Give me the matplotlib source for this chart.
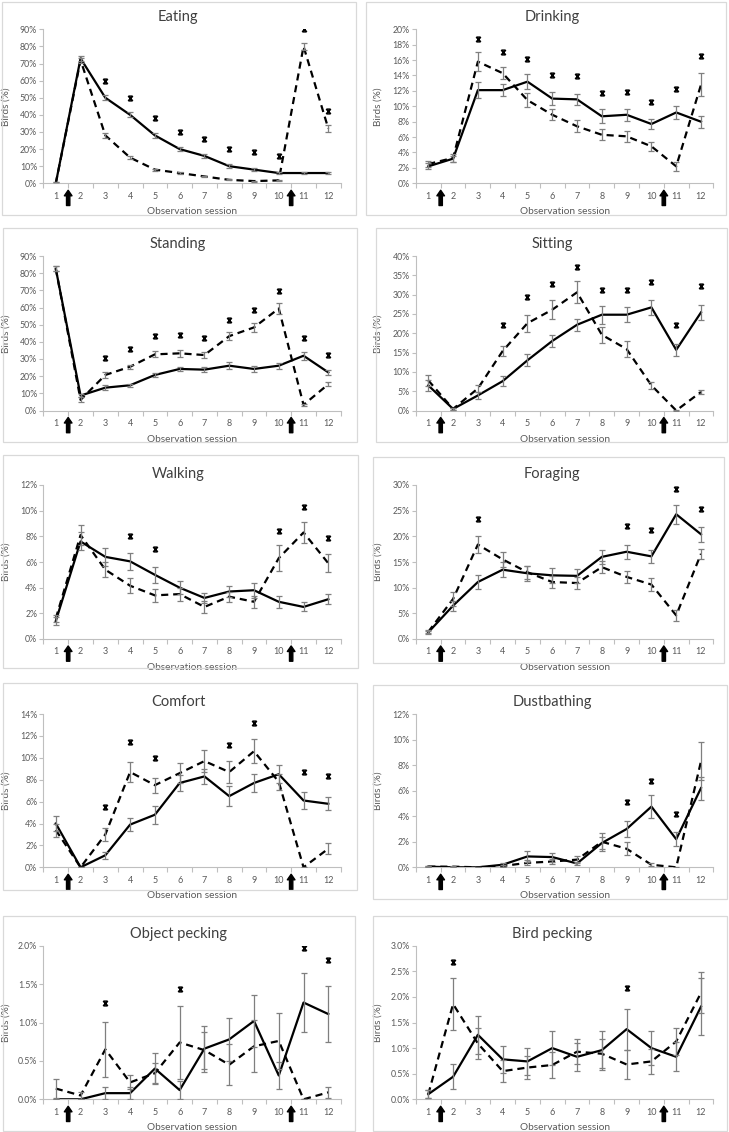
import numpy as np
import matplotlib
matplotlib.use('Agg')
import matplotlib.pyplot as plt
from matplotlib.path import Path
from matplotlib.patches import Rectangle
from matplotlib.ticker import FuncFormatter, MultipleLocator

plt.rcParams['font.family'] = ['Lato', 'DejaVu Sans']

nan = np.nan
sessions = list(range(1, 13))
session_labels = [str(s) for s in sessions]
arrow_positions = [1.5, 10.5]

# ---- data (percent of birds) ----
eating_solid = [0, 73, 50, 40, 28, 20, 16, 10, 8, 6, 6, 6]
eating_solid_err = [0.5, 1.5, 1.5, 1.5, 1.5, 1.2, 1.2, 1.0, 0.8, 0.8, 0.6, 0.6]
eating_dashed = [0, 72, 28, 15, 8, 6, 4, 2, 1.3, 1.7, 80, 32]
eating_dashed_err = [0.5, 1.5, 1.5, 0.8, 0.6, 0.6, 0.4, 0.3, 0.3, 0.3, 2.2, 1.8]
eating_star = [nan, nan, 60, 50, 38, 30, 26, 20, 18, 16, 90, 42]

drinking_solid = [2.2, 3.2, 12.1, 12.1, 13.2, 11.0, 10.9, 8.7, 8.9, 7.7, 9.2, 8.0]
drinking_solid_err = [0.4, 0.4, 1.0, 0.8, 1.0, 0.8, 0.7, 0.9, 0.8, 0.7, 0.9, 0.8]
drinking_dashed = [2.5, 3.3, 15.8, 14.3, 10.8, 8.9, 7.4, 6.3, 6.1, 4.8, 2.2, 12.8]
drinking_dashed_err = [0.4, 0.5, 1.2, 0.8, 0.9, 0.7, 0.8, 0.7, 0.7, 0.6, 0.6, 1.5]
drinking_star = [nan, nan, 18.8, 17.1, 16.1, 14.0, 13.9, 11.7, 11.9, 10.6, 12.3, 16.5]

standing_solid = [82.6, 8.7, 13.3, 14.7, 20.7, 24.2, 23.8, 26.1, 24.2, 26.1, 31.9, 22.2]
standing_solid_err = [1.5, 1.0, 1.5, 1.0, 1.2, 1.2, 1.5, 2.0, 1.7, 1.8, 2.2, 1.3]
standing_dashed = [82.6, 6.2, 20.7, 25.5, 32.7, 33.3, 32.3, 43.3, 48.4, 59.4, 3.3, 15.3]
standing_dashed_err = [1.5, 1.5, 1.5, 1.2, 1.8, 2.0, 2.0, 2.5, 2.5, 3.0, 0.7, 1.3]
standing_star = [nan, nan, 30.8, 35.6, 43.3, 43.9, 42.4, 53.0, 58.4, 69.4, 42.0, 32.3]

sitting_solid = [6.5, 0.4, 3.9, 7.6, 13.0, 18.0, 22.2, 24.8, 24.8, 26.7, 15.7, 25.4]
sitting_solid_err = [1.5, 0.3, 0.8, 1.3, 1.5, 1.5, 1.6, 2.3, 2.0, 2.0, 1.6, 2.0]
sitting_dashed = [7.8, 0.4, 5.7, 15.4, 22.6, 26.1, 30.6, 19.6, 15.9, 6.5, 0.0, 4.8]
sitting_dashed_err = [1.5, 0.3, 1.0, 1.4, 2.2, 2.5, 2.8, 2.0, 2.0, 1.0, 0.2, 0.6]
sitting_star = [nan, nan, nan, 22.2, 29.4, 32.8, 37.2, 31.3, 31.3, 33.2, 22.2, 32.2]

walking_solid = [1.4, 7.6, 6.4, 6.05, 5.0, 4.0, 3.2, 3.7, 3.8, 2.9, 2.5, 3.1]
walking_solid_err = [0.3, 0.7, 0.7, 0.65, 0.6, 0.5, 0.4, 0.4, 0.6, 0.45, 0.35, 0.4]
walking_dashed = [1.6, 8.1, 5.4, 4.15, 3.4, 3.5, 2.5, 3.3, 2.9, 6.3, 8.3, 5.9]
walking_dashed_err = [0.3, 0.8, 0.6, 0.6, 0.5, 0.5, 0.45, 0.4, 0.45, 1.0, 0.8, 0.7]
walking_star = [nan, nan, nan, 8.05, 7.04, nan, nan, nan, nan, 8.44, 10.3, 7.87]

foraging_solid = [1.3, 6.5, 11.1, 13.5, 12.8, 12.4, 12.3, 16.0, 17.0, 16.1, 24.3, 20.4]
foraging_solid_err = [0.3, 1.0, 1.3, 1.5, 1.5, 1.4, 1.4, 1.4, 1.4, 1.3, 1.9, 1.5]
foraging_dashed = [1.4, 7.8, 18.4, 15.5, 13.0, 11.1, 10.9, 14.0, 12.1, 10.6, 4.6, 16.6]
foraging_dashed_err = [0.3, 1.4, 1.6, 1.4, 1.3, 1.2, 1.1, 1.2, 1.2, 1.2, 1.0, 1.0]
foraging_star = [nan, nan, 23.3, nan, nan, nan, nan, nan, 22.0, 21.2, 29.3, 25.4]

comfort_solid = [4.0, 0.0, 1.1, 3.9, 4.8, 7.7, 8.3, 6.5, 7.7, 8.5, 6.1, 5.8]
comfort_solid_err = [0.7, 0.05, 0.3, 0.6, 0.8, 0.7, 0.7, 0.9, 0.8, 0.8, 0.8, 0.6]
comfort_dashed = [3.4, 0.0, 3.0, 8.7, 7.5, 8.6, 9.7, 8.7, 10.6, 7.8, 0.0, 1.7]
comfort_dashed_err = [0.6, 0.05, 0.6, 0.9, 0.7, 0.9, 1.0, 1.0, 1.1, 0.7, 0.05, 0.5]
comfort_star = [nan, nan, 5.5, 11.4, 9.95, nan, nan, 11.2, 13.15, nan, 8.7, 8.3]

dust_solid = [0.05, 0.0, 0.0, 0.2, 0.85, 0.8, 0.3, 1.9, 3.0, 4.75, 2.2, 6.2]
dust_solid_err = [0.05, 0.03, 0.02, 0.15, 0.4, 0.35, 0.15, 0.5, 0.6, 0.9, 0.55, 0.9]
dust_dashed = [0.05, 0.05, 0.0, 0.1, 0.35, 0.45, 0.6, 2.0, 1.45, 0.2, 0.0, 8.3]
dust_dashed_err = [0.05, 0.05, 0.02, 0.1, 0.2, 0.2, 0.3, 0.7, 0.5, 0.1, 0.02, 1.5]
dust_star = [nan, nan, nan, nan, nan, nan, nan, nan, 5.1, 6.75, 4.2, nan]

objpeck_solid = [0.0, 0.0, 0.08, 0.08, 0.4, 0.12, 0.66, 0.78, 1.02, 0.31, 1.26, 1.11]
objpeck_solid_err = [0.0, 0.0, 0.08, 0.08, 0.2, 0.12, 0.3, 0.28, 0.34, 0.17, 0.38, 0.36]
objpeck_dashed = [0.14, 0.05, 0.65, 0.22, 0.34, 0.74, 0.64, 0.45, 0.69, 0.76, 0.0, 0.09]
objpeck_dashed_err = [0.12, 0.04, 0.36, 0.09, 0.13, 0.48, 0.24, 0.27, 0.34, 0.37, 0.0, 0.07]
objpeck_star = [nan, nan, 1.26, nan, nan, 1.44, nan, nan, nan, nan, 1.97, 1.81]

birdpeck_solid = [0.1, 0.44, 1.26, 0.78, 0.74, 1.0, 0.83, 0.96, 1.37, 1.0, 0.83, 1.81]
birdpeck_solid_err = [0.08, 0.24, 0.37, 0.26, 0.26, 0.33, 0.27, 0.38, 0.4, 0.33, 0.28, 0.55]
birdpeck_dashed = [0.1, 1.86, 1.09, 0.55, 0.62, 0.67, 0.93, 0.89, 0.68, 0.74, 1.13, 2.08]
birdpeck_dashed_err = [0.08, 0.5, 0.3, 0.22, 0.23, 0.26, 0.25, 0.28, 0.28, 0.25, 0.27, 0.4]
birdpeck_star = [nan, 2.69, nan, nan, nan, nan, nan, nan, 2.18, nan, nan, nan]

titles = ["Eating", "Drinking", "Standing", "Sitting", "Walking", "Foraging",
          "Comfort", "Dustbathing", "Object pecking", "Bird pecking"]
y_max = [90, 20, 90, 40, 12, 30, 14, 12, 2.0, 3.0]
y_step = [10, 2, 10, 5, 2, 5, 2, 2, 0.5, 0.5]
y_decimals = [0, 0, 0, 0, 0, 0, 0, 0, 1, 1]

panel_data = [
    (eating_solid, eating_solid_err, eating_dashed, eating_dashed_err, eating_star),
    (drinking_solid, drinking_solid_err, drinking_dashed, drinking_dashed_err, drinking_star),
    (standing_solid, standing_solid_err, standing_dashed, standing_dashed_err, standing_star),
    (sitting_solid, sitting_solid_err, sitting_dashed, sitting_dashed_err, sitting_star),
    (walking_solid, walking_solid_err, walking_dashed, walking_dashed_err, walking_star),
    (foraging_solid, foraging_solid_err, foraging_dashed, foraging_dashed_err, foraging_star),
    (comfort_solid, comfort_solid_err, comfort_dashed, comfort_dashed_err, comfort_star),
    (dust_solid, dust_solid_err, dust_dashed, dust_dashed_err, dust_star),
    (objpeck_solid, objpeck_solid_err, objpeck_dashed, objpeck_dashed_err, objpeck_star),
    (birdpeck_solid, birdpeck_solid_err, birdpeck_dashed, birdpeck_dashed_err, birdpeck_star),
]

# ---- layout (pixels) ----
W, H = 729, 1132
col_x = [(43.4, 340.7), (415.9, 713.4)]
row_y = [(183.3, 29.3), (410.5, 256.0), (639.0, 485.0), (867.3, 714.0), (1099.3, 945.7)]
panel_boxes = [
    (2, 2, 356, 215), (366, 2, 726, 215),
    (3, 228, 357, 442), (376, 228, 727, 442),
    (3, 455, 358, 668), (373, 457, 724, 663),
    (3, 683, 357, 890), (373, 685, 727, 899),
    (3, 916, 355, 1131), (373, 916, 727, 1131),
]
title_y = [17, 244, 474, 702, 934]
title_x = [178, 552]

grey_axis = '#bfbfbf'
grey_text = '#595959'
err_color = '#7f7f7f'

star_marker = Path(
    [(-1, -1), (1, 1), (-1, 1), (1, -1), (-0.8, 1), (0.8, 1), (-0.8, -1), (0.8, -1)],
    [Path.MOVETO, Path.LINETO] * 4)

fig = plt.figure(figsize=(W / 100, H / 100), dpi=100)
fig.patch.set_facecolor('white')

for i, (title, data) in enumerate(zip(titles, panel_data)):
    r, c = divmod(i, 2)
    s, se, d, de, st = data
    bx0, by0, bx1, by1 = panel_boxes[i]
    fig.patches.append(Rectangle((bx0 / W, 1 - by1 / H), (bx1 - bx0) / W, (by1 - by0) / H,
                                 transform=fig.transFigure, fill=False,
                                 edgecolor='#d9d9d9', lw=0.9))
    x0, x1 = col_x[c]
    yb, yt = row_y[r]
    ax = fig.add_axes([x0 / W, 1 - yb / H, (x1 - x0) / W, (yb - yt) / H])
    ax.set_xlim(0.5, 12.5)
    ax.set_ylim(0, y_max[i])

    ax.plot(sessions, s, color='black', lw=1.6, zorder=3)
    ax.plot(sessions, d, color='black', lw=1.6, ls=(0, (3.2, 2.2)), zorder=3)
    ax.errorbar(sessions, s, yerr=se, fmt='none', ecolor=err_color, elinewidth=0.9,
                capsize=2.2, capthick=0.9, zorder=4)
    ax.errorbar(sessions, d, yerr=de, fmt='none', ecolor=err_color, elinewidth=0.9,
                capsize=2.2, capthick=0.9, zorder=4)
    ax.plot(sessions, st, ls='none', marker=star_marker, ms=3.4, mew=1.1,
            markerfacecolor='none', markeredgecolor='black', zorder=5)

    for sp in ['top', 'right']:
        ax.spines[sp].set_visible(False)
    for sp in ['left', 'bottom']:
        ax.spines[sp].set_color(grey_axis)
        ax.spines[sp].set_linewidth(0.8)

    ax.set_xticks(sessions)
    ax.set_xticklabels(session_labels)
    ax.set_xticks(np.arange(0.5, 13, 1.0), minor=True)
    ax.tick_params(axis='x', which='major', length=0, pad=6, labelsize=6.5,
                   labelcolor=grey_text)
    ax.tick_params(axis='x', which='minor', length=3.5, color=grey_axis, width=0.8)
    ax.yaxis.set_major_locator(MultipleLocator(y_step[i]))
    dec = y_decimals[i]
    ax.yaxis.set_major_formatter(FuncFormatter(lambda v, p, dec=dec: f"{v:.{dec}f}%"))
    ax.tick_params(axis='y', length=3, color=grey_axis, width=0.8, pad=1.5,
                   labelsize=6.3, labelcolor=grey_text)

    ax.set_xlabel('Observation session', fontsize=7.3, color=grey_text)
    ax.xaxis.set_label_coords(0.5, -24.0 / (yb - yt))
    ax.set_ylabel('Birds (%)', fontsize=7.2, color=grey_text)
    ax.yaxis.set_label_coords(-33.0 / (x1 - x0), 0.5)

    fig.text(title_x[c] / W, 1 - title_y[r] / H, title, ha='center', va='center',
             fontsize=10.5, color='#404040')

    for xa in arrow_positions:
        ax.annotate('', xy=(xa, -5), xytext=(xa, -16),
                    xycoords=('data', 'axes points'), textcoords=('data', 'axes points'),
                    arrowprops=dict(facecolor='black', edgecolor='black', width=2.4,
                                    headwidth=5.5, headlength=4.0, shrink=0),
                    annotation_clip=False)

fig.savefig('out.png', dpi=100, facecolor='white')
